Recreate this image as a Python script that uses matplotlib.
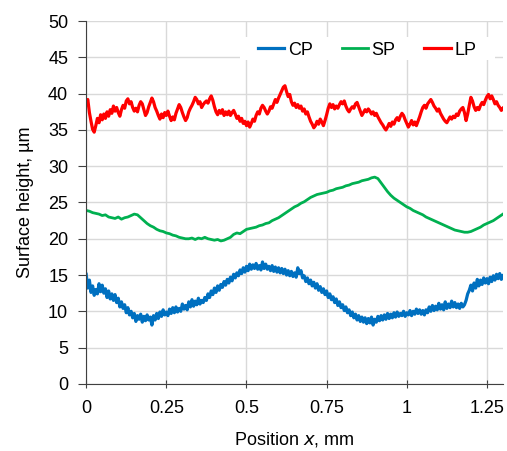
import numpy as np
import matplotlib.pyplot as plt
from matplotlib.patches import Rectangle

plt.rcParams['font.family'] = ['Liberation Sans', 'DejaVu Sans']

# Surface profiles, sampled on a uniform grid along x (mm)
step_fine = 0.005   # CP and LP
step_sp = 0.01      # SP

cp = [
    15.1, 13.2, 14.3, 12.6, 13.5, 12.2, 13.0, 12.4, 13.8, 12.7,
    13.6, 12.5, 13.1, 11.9, 12.8, 11.7, 12.4, 11.5, 12.3, 11.2,
    11.8, 10.6, 11.3, 10.4, 10.9, 9.8, 10.5, 9.5, 10.0, 9.1,
    9.7, 8.6, 9.4, 8.9, 9.6, 8.5, 9.3, 8.7, 9.5, 8.8,
    9.2, 8.1, 9.4, 8.8, 9.7, 9.0, 9.9, 9.3, 10.2, 9.5,
    9.9, 9.4, 10.3, 9.7, 10.5, 9.8, 10.6, 9.9, 10.4, 10.0,
    11.0, 10.3, 10.8, 10.2, 11.3, 10.6, 11.6, 10.7, 11.4, 10.9,
    11.8, 11.0, 11.5, 11.2, 11.9, 11.5, 12.4, 11.9, 12.8, 12.3,
    13.2, 12.6, 13.5, 12.9, 13.7, 13.3, 14.1, 13.6, 14.4, 13.9,
    14.7, 14.2, 15.1, 14.6, 15.3, 14.9, 15.7, 15.2, 16.0, 15.4,
    16.2, 15.6, 16.5, 15.8, 16.4, 15.9, 16.6, 15.8, 16.3, 15.7,
    16.8, 15.9, 16.5, 15.8, 16.2, 15.6, 16.3, 15.5, 16.1, 15.4,
    16.0, 15.3, 15.9, 15.2, 15.8, 15.0, 15.6, 14.9, 15.5, 14.8,
    15.3, 14.7, 16.0, 15.2, 15.6, 14.6, 14.9, 14.1, 14.6, 13.8,
    14.3, 13.5, 14.0, 13.2, 13.8, 12.9, 13.4, 12.6, 13.1, 12.3,
    12.8, 11.9, 12.4, 11.6, 12.0, 11.2, 11.7, 10.8, 11.3, 10.5,
    10.9, 10.1, 10.6, 9.8, 10.2, 9.4, 9.9, 9.1, 9.6, 8.8,
    9.4, 8.6, 9.2, 8.5, 9.1, 8.3, 9.0, 8.4, 9.2, 8.1,
    8.9, 8.5, 9.3, 8.7, 9.4, 8.8, 9.5, 8.9, 9.7, 9.0,
    9.6, 9.1, 9.8, 9.2, 9.9, 9.3, 9.7, 9.4, 10.0, 9.3,
    9.8, 9.5, 10.1, 9.4, 10.0, 9.6, 10.3, 9.7, 10.2, 9.6,
    10.1, 9.5, 10.2, 9.8, 10.6, 10.0, 10.8, 10.1, 10.7, 10.2,
    11.1, 10.3, 10.9, 10.2, 11.3, 10.4, 11.0, 10.5, 11.4, 10.6,
    11.2, 10.5, 11.0, 10.4, 11.1, 10.6, 10.9, 11.5, 12.4, 12.9,
    13.6, 12.8, 13.9, 13.2, 14.4, 13.5, 14.3, 13.7, 14.6, 13.9,
    14.5, 13.8, 14.7, 14.1, 14.9, 14.3, 15.1, 14.5, 15.2, 14.4,
    14.9,
]

sp = [
    23.9, 23.8, 23.6, 23.5, 23.4, 23.2, 23.3, 23.0, 22.9, 22.8,
    23.0, 22.7, 22.9, 23.0, 23.2, 23.4, 23.3, 22.9, 22.5, 22.1,
    21.8, 21.6, 21.3, 21.1, 21.0, 20.8, 20.7, 20.5, 20.4, 20.2,
    20.1, 20.0, 20.0, 20.1, 19.9, 20.1, 20.0, 20.2, 20.0, 19.9,
    19.8, 19.9, 19.7, 19.8, 20.0, 20.2, 20.6, 20.8, 20.7, 21.0,
    21.3, 21.4, 21.5, 21.6, 21.8, 21.9, 22.1, 22.2, 22.5, 22.7,
    22.9, 23.2, 23.5, 23.8, 24.1, 24.4, 24.6, 24.9, 25.1, 25.4,
    25.7, 25.9, 26.1, 26.2, 26.3, 26.4, 26.6, 26.7, 26.9, 27.0,
    27.1, 27.3, 27.4, 27.6, 27.7, 27.8, 28.0, 28.1, 28.2, 28.4,
    28.5, 28.3, 27.7, 27.1, 26.5, 26.0, 25.6, 25.3, 25.0, 24.7,
    24.4, 24.2, 23.9, 23.7, 23.5, 23.3, 23.0, 22.8, 22.6, 22.4,
    22.2, 22.0, 21.8, 21.6, 21.4, 21.2, 21.1, 21.0, 20.9, 20.9,
    21.0, 21.2, 21.4, 21.6, 21.9, 22.1, 22.3, 22.5, 22.8, 23.1,
    23.4,
]

lp = [
    38.8, 39.2, 37.4, 36.2, 35.1, 34.7, 35.6, 36.6, 36.0, 37.1,
    36.4, 37.2, 36.6, 37.5, 36.9, 37.8, 37.3, 38.3, 37.6, 38.1,
    37.4, 36.9, 37.8, 38.4, 38.0, 39.0, 39.3, 38.6, 38.9, 38.1,
    37.6, 38.0, 37.5, 38.4, 38.9, 38.6, 37.8, 37.0, 37.4, 38.2,
    38.8, 39.4, 38.9, 38.1, 37.6, 37.0, 36.5, 37.2, 36.7, 37.4,
    37.0, 37.6, 36.9, 36.3, 36.8, 36.4, 37.3, 37.9, 38.5, 38.1,
    37.4, 36.8, 36.3, 36.7, 37.5, 38.0, 38.4, 38.9, 39.5, 39.2,
    38.6, 38.9, 38.1, 38.5, 38.8, 39.0, 38.7, 39.3, 39.7, 39.1,
    38.2, 37.5, 37.1, 37.7, 37.3, 37.8, 37.0, 37.5, 37.1, 37.6,
    37.0, 37.4, 37.7, 37.2, 36.6, 36.9, 36.2, 36.6, 35.9, 36.2,
    35.6, 36.1, 35.4, 35.9, 36.5, 36.2, 37.0, 37.5, 37.2, 38.0,
    38.4, 38.1, 37.6, 37.2, 37.6, 38.2, 38.0, 38.6, 39.2, 38.8,
    39.4, 39.9, 40.4, 40.9, 41.1, 40.3, 39.6, 39.9, 38.9, 38.4,
    38.7, 38.1, 38.5, 38.0, 38.3, 37.6, 37.9, 37.2, 37.5, 36.8,
    36.2, 35.8, 35.3, 35.6, 36.2, 35.8, 36.5, 36.1, 35.6, 36.3,
    37.1, 38.0, 38.6, 38.1, 38.5, 37.9, 38.3, 38.0, 38.5, 38.9,
    38.6, 39.0, 38.3, 37.8, 37.5, 37.9, 38.2, 38.0, 38.6, 38.8,
    38.2, 37.6, 37.0, 37.4, 37.8, 37.5, 37.9, 37.6, 37.2, 37.5,
    37.0, 37.3, 36.8, 36.4, 36.0, 35.7, 35.3, 35.0, 35.4, 35.9,
    35.5, 36.1, 35.8, 36.4, 36.7, 36.3, 36.9, 37.3, 37.0, 36.4,
    35.9, 35.4, 35.8, 36.3, 35.7, 36.1, 35.6, 36.2, 36.8, 37.5,
    38.1, 38.4, 38.0, 38.6, 38.9, 39.2, 38.8, 38.3, 38.0, 37.6,
    37.9, 37.3, 36.9, 36.5, 36.2, 36.0, 36.4, 36.8, 36.5, 36.9,
    36.7, 37.2, 37.0, 37.6, 37.9, 38.1, 37.4, 36.3, 37.2, 38.4,
    39.5, 39.0, 38.2, 37.7, 38.1, 37.8, 38.4, 38.8, 38.5, 39.1,
    39.6, 39.9, 39.3, 39.7, 39.2, 38.6, 38.9, 38.4, 38.1, 37.7,
    38.0,
]

x_cp = np.arange(len(cp)) * step_fine
x_sp = np.arange(len(sp)) * step_sp
x_lp = np.arange(len(lp)) * step_fine

fig = plt.figure(figsize=(5.07, 4.51), dpi=100)
ax = fig.add_axes([0.170, 0.149, 0.822, 0.804])

ax.plot(x_cp, cp, color='#0070C0', lw=2.3, label='CP')
ax.plot(x_sp, sp, color='#00B050', lw=2.0, label='SP')
ax.plot(x_lp, lp, color='#FF0000', lw=2.3, label='LP')

ax.set_xlim(0, 1.30)
ax.set_ylim(0, 50)
ax.set_xticks([0, 0.25, 0.5, 0.75, 1, 1.25])
ax.set_xticklabels(['0', '0.25', '0.5', '0.75', '1', '1.25'])
ax.set_yticks(range(0, 51, 5))

ax.grid(True, color='#d9d9d9', lw=1)
ax.set_axisbelow(True)
for s in ['top', 'right']:
    ax.spines[s].set_visible(False)
ax.spines['left'].set_color('#404040')
ax.spines['bottom'].set_color('#404040')
ax.tick_params(axis='x', direction='inout', length=6, color='#404040',
               labelsize=13, pad=9)
ax.tick_params(axis='y', direction='out', length=6, color='#404040',
               labelsize=13, pad=7)

ax.set_xlabel('Position $\\mathit{x}$, mm', fontsize=13, labelpad=9)
ax.set_ylabel('Surface height, µm', fontsize=13, labelpad=10)

# white band behind the legend, hiding the grid there
ax.add_patch(Rectangle((0.369, 0.893), 0.612, 0.063, transform=ax.transAxes,
                       facecolor='white', edgecolor='none', zorder=1))
ax.legend(loc='center right', ncol=3, frameon=False, fontsize=13,
          handlelength=1.45, columnspacing=1.6, handletextpad=0.2,
          bbox_to_anchor=(0.936, 0.920), borderpad=0, borderaxespad=0)

fig.savefig('out.png', dpi=100)
